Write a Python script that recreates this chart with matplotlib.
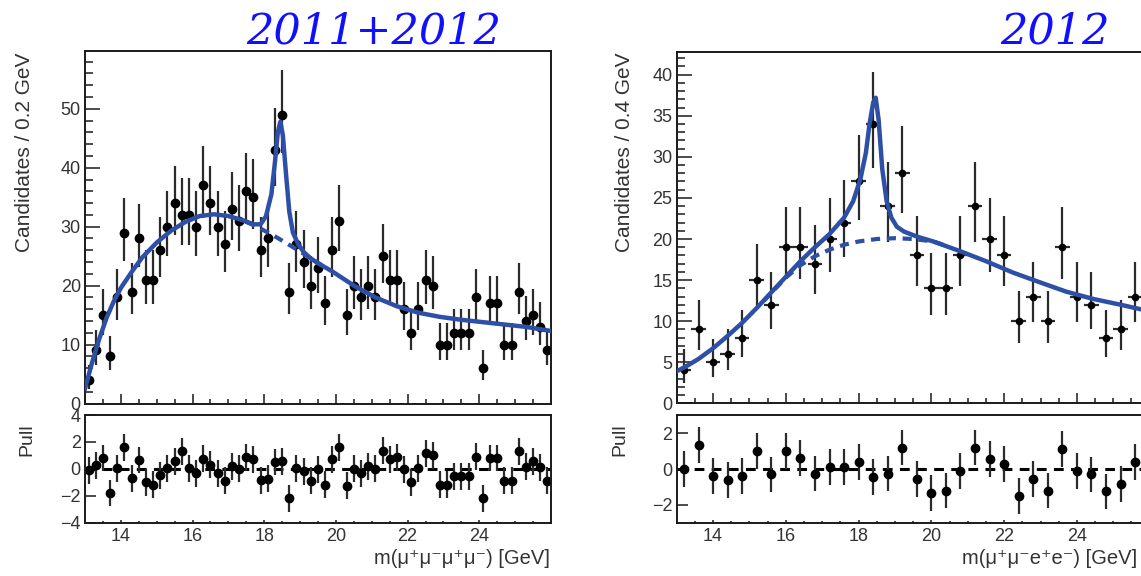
import numpy as np
import matplotlib
matplotlib.use('Agg')
import matplotlib.pyplot as plt
from matplotlib.ticker import MultipleLocator, NullFormatter

plt.rcParams['font.family'] = ['Liberation Sans', 'DejaVu Sans']

W, H = 1141, 576

# ---- 4 mu, 0.2 GeV bins, 13 - 26 GeV (2011+2012)
mu_edges = np.linspace(13.0, 26.0, 66)
mu_counts = [4, 9, 15, 8, 18, 29, 19, 28, 21, 21,
             26, 30, 34, 32, 32, 30, 37, 34, 30, 27,
             33, 31, 36, 35, 26, 28, 43, 49, 19, 27,
             24, 20, 23, 17, 26, 31, 15, 20, 18, 20,
             18, 25, 21, 21, 16, 12, 16, 21, 20, 10,
             10, 12, 12, 12, 18, 6, 17, 17, 10, 10,
             19, 14, 15, 13, 9]
mu_pull = [-0.1, 0.25, 0.8, -1.8, 0.05, 1.6, -0.7, 0.65, -1.0, -1.2,
           -0.5, 0.05, 0.55, 1.3, 0.05, -0.35, 0.75, 0.3, -0.35, -0.9,
           0.2, 0.0, 0.85, 0.7, -0.85, -0.75, 0.5, 0.55, -2.2, 0.05,
           -0.2, -0.9, -0.05, -1.2, 0.7, 1.6, -1.25, 0.0, -0.35, 0.2,
           0.0, 1.35, 0.7, 0.85, -0.05, -1.0, 0.05, 1.15, 1.0, -1.2,
           -1.2, -0.55, -0.55, -0.55, 0.9, -2.2, 0.8, 0.8, -0.9, -0.9,
           1.3, 0.15, 0.55, 0.1, -0.9]
# total fit
mu_fit_x = [13.0, 13.2, 13.4, 13.6, 13.8, 14.0, 14.3, 14.6, 15.0, 15.4, 15.8,
            16.2, 16.6, 17.0, 17.4, 17.7, 17.9, 18.05, 18.2, 18.3, 18.38, 18.45,
            18.52, 18.6, 18.7, 18.8, 18.95, 19.1, 19.3, 19.5, 19.9, 20.5, 21.1,
            21.7, 22.3, 22.9, 23.5, 24.1, 24.7, 25.3, 26.0]
mu_fit_y = [2.5, 7.0, 11.0, 14.5, 17.3, 19.6, 22.3, 24.8, 27.3, 29.3, 30.8,
            31.8, 32.1, 31.8, 31.1, 30.4, 30.4, 31.8, 35.5, 41.0, 46.0, 47.8,
            45.5, 39.5, 32.5, 29.0, 27.0, 25.7, 24.6, 23.8, 22.4, 20.0, 18.0,
            16.5, 15.4, 14.7, 14.2, 13.8, 13.4, 13.0, 12.3]
# background only (dashed), where it leaves the total fit
mu_bkg_x = [17.5, 17.8, 18.1, 18.4, 18.7, 19.0, 19.3, 19.6]
mu_bkg_y = [30.8, 30.0, 29.0, 28.0, 26.9, 25.8, 24.6, 23.5]

# ---- 2 mu 2 e, 0.4 GeV bins (2012)
ee_edges = np.linspace(13.0, 25.8, 33)
ee_counts = [4, 9, 5, 6, 8, 15, 12, 19, 19, 17, 20, 22, 27, 34, 24, 28,
             18, 14, 14, 18, 24, 20, 18, 10, 13, 10, 19, 13, 12, 8, 9, 13]
ee_pull = [0.0, 1.35, -0.4, -0.6, -0.4, 1.0, -0.3, 1.0, 0.6, -0.25, 0.1,
           0.1, 0.4, -0.45, -0.25, 1.2, -0.55, -1.35, -1.2, -0.1, 1.2, 0.55,
           0.3, -1.5, -0.55, -1.2, 1.1, -0.1, -0.3, -1.25, -0.85, 0.4]
ee_fit_x = [13.0, 13.3, 13.6, 14.0, 14.4, 14.8, 15.2, 15.6, 16.0, 16.4, 16.8,
            17.2, 17.6, 17.85, 18.05, 18.2, 18.3, 18.4, 18.47, 18.55, 18.65,
            18.77, 18.9, 19.05, 19.25, 19.6, 20.05, 20.8, 21.5, 22.25, 23.0,
            23.7, 24.45, 25.2, 26.0]
ee_fit_y = [3.9, 4.6, 5.4, 6.7, 8.2, 9.8, 11.6, 13.5, 15.4, 17.3, 19.0,
            20.6, 22.6, 24.6, 27.3, 30.5, 34.0, 36.6, 37.2, 34.5, 28.5,
            24.6, 22.6, 21.5, 20.9, 20.3, 19.7, 18.5, 17.3, 15.9, 14.7,
            13.6, 12.7, 12.0, 11.2]
ee_bkg_x = [15.4, 16.0, 16.4, 16.8, 17.2, 17.6, 18.0, 18.5, 19.0, 19.5, 20.05, 20.4]
ee_bkg_y = [12.5, 15.3, 16.8, 17.9, 18.7, 19.3, 19.7, 20.0, 20.1, 20.0, 19.7, 19.2]

titles = ['2011+2012', '2012']
ylabels = ['Candidates / 0.2 GeV', 'Candidates / 0.4 GeV']
xlabels = ['m(\u03bc\u207a\u03bc\u207b\u03bc\u207a\u03bc\u207b) [GeV]',
           'm(\u03bc\u207a\u03bc\u207be\u207ae\u207b) [GeV]']

BLUE = '#2d4fa5'
INK = '#1a1a1a'
TXT = '#333333'


def box(x0, y0, x1, y1):
    return [x0 / W, 1 - y1 / H, (x1 - x0) / W, (y1 - y0) / H]


def poisson(n):
    n = np.asarray(n, float)
    s = np.sqrt(n + 0.25)
    return np.vstack([s - 0.5, s + 0.5])


def style(ax, ymaj, ymin, ylen, xlen):
    # upper limit just below 26 so ROOT-like axis has no "26" label
    ax.set_xlim(13, 25.995)
    ax.xaxis.set_major_locator(MultipleLocator(2))
    ax.xaxis.set_minor_locator(MultipleLocator(0.5))
    ax.yaxis.set_major_locator(MultipleLocator(ymaj))
    if ymin:
        ax.yaxis.set_minor_locator(MultipleLocator(ymin))
    else:
        ax.yaxis.set_minor_locator(plt.NullLocator())
    ax.tick_params(axis='both', which='both', direction='in', colors=INK,
                   labelcolor=TXT, labelsize=13, width=1.1,
                   top=False, right=False)
    ax.tick_params(axis='y', which='major', length=ylen[0], pad=3)
    ax.tick_params(axis='y', which='minor', length=ylen[1])
    ax.tick_params(axis='x', which='major', length=xlen[0], pad=4)
    ax.tick_params(axis='x', which='minor', length=xlen[1])
    for sp in ax.spines.values():
        sp.set_linewidth(1.4)
        sp.set_color(INK)


fig = plt.figure(figsize=(W / 100, H / 100), dpi=100)

panels = [
    dict(main=(85, 51, 550.8, 403.5), pull=(85, 415, 550.8, 522.5),
         edges=mu_edges, counts=mu_counts, pull_v=mu_pull, xerr=0,
         ms=6.0, fx=mu_fit_x, fy=mu_fit_y, bx=mu_bkg_x, by=mu_bkg_y,
         ylim=(0, 59.8), ymaj=10, ymin=2, plim=(-4, 4),
         ylab_x=25, pull_lab_x=27, xlab_right=550, title_x=374),
    dict(main=(676.7, 51.7, 1149.5, 403.3), pull=(676.7, 415.4, 1149.5, 522.7),
         edges=ee_edges, counts=ee_counts, pull_v=ee_pull, xerr=0.2,
         ms=4.5, fx=ee_fit_x, fy=ee_fit_y, bx=ee_bkg_x, by=ee_bkg_y,
         ylim=(0, 42.8), ymaj=5, ymin=1, plim=(-3, 3),
         ylab_x=624, pull_lab_x=620, xlab_right=1137, title_x=1055),
]

for i, p in enumerate(panels):
    centers = 0.5 * (p['edges'][1:] + p['edges'][:-1])

    ax = fig.add_axes(box(*p['main']))
    ax.errorbar(centers, p['counts'], yerr=poisson(p['counts']),
                xerr=p['xerr'] if p['xerr'] else None,
                fmt='o', color='black', ecolor='#2b2b2b', ms=p['ms'],
                elinewidth=1.6, capsize=0, zorder=2)
    ax.plot(p['bx'], p['by'], color=BLUE, lw=3.0, ls=(0, (2.2, 1.6)), zorder=3)
    ax.plot(p['fx'], p['fy'], color=BLUE, lw=3.2, zorder=4,
            solid_joinstyle='round')
    ax.set_ylim(*p['ylim'])
    style(ax, p['ymaj'], p['ymin'], (11, 5.5), (7, 3.5))
    ax.xaxis.set_major_formatter(NullFormatter())

    pax = fig.add_axes(box(*p['pull']))
    pax.axhline(0, color='black', lw=2.2, ls=(0, (3.2, 2.4)), zorder=1)
    pax.errorbar(centers, p['pull_v'], yerr=1.0, fmt='o', color='black',
                 ecolor='#2b2b2b', ms=6.0, elinewidth=1.6, capsize=0, zorder=2)
    pax.set_ylim(*p['plim'])
    style(pax, 2, None, (8, 4), (2.5, 1.5))

    fig.text(p['ylab_x'] / W, 1 - 53 / H, ylabels[i], rotation=90,
             ha='center', va='top', fontsize=15, color=TXT)
    fig.text(p['pull_lab_x'] / W, 1 - 423 / H, 'Pull', rotation=90,
             ha='center', va='top', fontsize=14, color=TXT)
    fig.text(p['xlab_right'] / W, 1 - 558 / H, xlabels[i],
             ha='right', va='center', fontsize=14.5, color=TXT)
    fig.text(p['title_x'] / W, 1 - 31 / H, titles[i], ha='center',
             va='center', fontsize=31, color='#1010ff',
             family='DejaVu Serif', style='italic')

fig.savefig('out.png', dpi=100)
